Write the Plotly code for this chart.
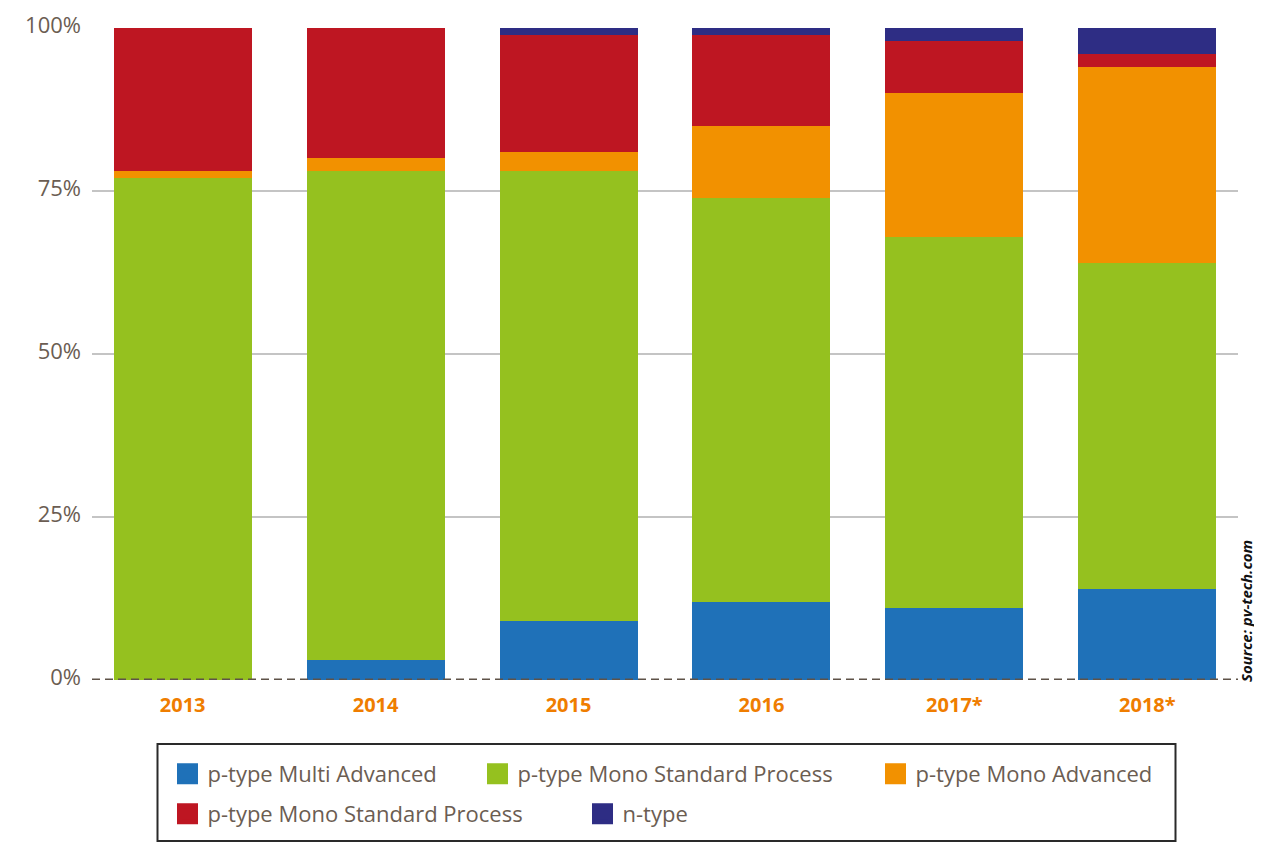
import plotly.graph_objects as go

years = ["2013", "2014", "2015", "2016", "2017*", "2018*"]
series_names = [
    "p-type Multi Advanced",
    "p-type Mono Standard Process",
    "p-type Mono Advanced",
    "p-type Mono Standard Process",
    "n-type",
]
multi_adv = [0, 3, 9, 12, 11, 14]
mono_std = [77, 75, 69, 62, 57, 50]
mono_adv = [1, 2, 3, 11, 22, 30]
mono_std2 = [22, 20, 18, 14, 8, 2]
n_type = [0, 0, 1, 1, 2, 4]
values = [multi_adv, mono_std, mono_adv, mono_std2, n_type]
colors = ["#1f71b8", "#95c11f", "#f29100", "#be1622", "#2e2d84"]
y_ticks = [0, 25, 50, 75, 100]
y_tick_text = ["0%", "25%", "50%", "75%", "100%"]

TEXT = "#6b5d52"
FONT = "Open Sans"

# figure geometry (the page adds an 8px body margin)
W, H = 1254, 834
ML, MR, MT, MB = 84, 24, 20, 162
PW, PH = W - ML - MR, H - MT - MB


def px_to_paper_x(fx):
    return (fx - ML) / PW


def px_to_paper_y(fy):
    return (H - MB - fy) / PH


# legend placement: (legend left in figure px, row centre in figure px)
legend_pos = [(159.5, 766), (469.5, 766), (867.5, 766), (159.5, 806), (574.5, 806)]
legend_ids = ["legend", "legend2", "legend3", "legend4", "legend5"]

fig = go.Figure()
for name, vals, col in zip(series_names, values, colors):
    fig.add_trace(go.Bar(x=years, y=vals, name=name, marker=dict(color=col, line=dict(width=0)),
                         width=0.715, showlegend=False))
for name, col, lid in zip(series_names, colors, legend_ids):
    fig.add_trace(go.Scatter(x=[None], y=[None], mode="markers", name=name, legend=lid,
                             marker=dict(symbol="square", size=16, color=col,
                                         line=dict(color=col, width=5)),
                             showlegend=True))

fig.add_shape(type="line", xref="paper", yref="y", x0=0, x1=1, y0=0, y1=0,
              line=dict(color="#5e5248", width=3, dash="8px,5px"), layer="above")

# legend frame
fig.add_shape(type="rect", xref="paper", yref="paper",
              x0=px_to_paper_x(149.5), x1=px_to_paper_x(1167.5),
              y0=px_to_paper_y(833), y1=px_to_paper_y(736),
              line=dict(color="#2a2a2a", width=2), fillcolor="rgba(0,0,0,0)", layer="above")

fig.add_annotation(text="<b><i>Source: pv-tech.com</i></b>", xref="paper", yref="paper",
                   x=1.0, xanchor="left", xshift=-3, y=0, yanchor="bottom", yshift=-3,
                   textangle=-90, showarrow=False, borderpad=0,
                   font=dict(family=FONT, size=15, color="#111111"))

legend_layout = {}
for lid, (lx, ly) in zip(legend_ids, legend_pos):
    legend_layout[lid] = dict(orientation="h", xref="container", yref="container",
                              x=lx / W, xanchor="left", y=(H - ly) / H, yanchor="middle",
                              borderwidth=0, bgcolor="rgba(0,0,0,0)",
                              font=dict(family=FONT, size=22, color=TEXT))

fig.update_layout(
    width=W, height=H,
    margin=dict(l=ML, r=MR, t=MT, b=MB, autoexpand=False),
    barmode="stack",
    plot_bgcolor="white", paper_bgcolor="white",
    font=dict(family=FONT, color=TEXT),
    xaxis=dict(range=[-0.47, 5.47], showgrid=False, zeroline=False, showline=False,
               tickfont=dict(family=FONT, size=20, color="#ef7d00", weight="bold"),
               ticks="", ticklabelstandoff=11),
    yaxis=dict(range=[0, 100], tickvals=y_ticks, ticktext=y_tick_text, showgrid=True,
               gridcolor="#c4c4c4", gridwidth=1.5, zeroline=False, showline=False,
               tickfont=dict(family=FONT, size=22, color=TEXT), ticks="",
               ticklabelstandoff=10, ticklabelshift=-3),
    **legend_layout,
)

fig.write_html("out.html")
